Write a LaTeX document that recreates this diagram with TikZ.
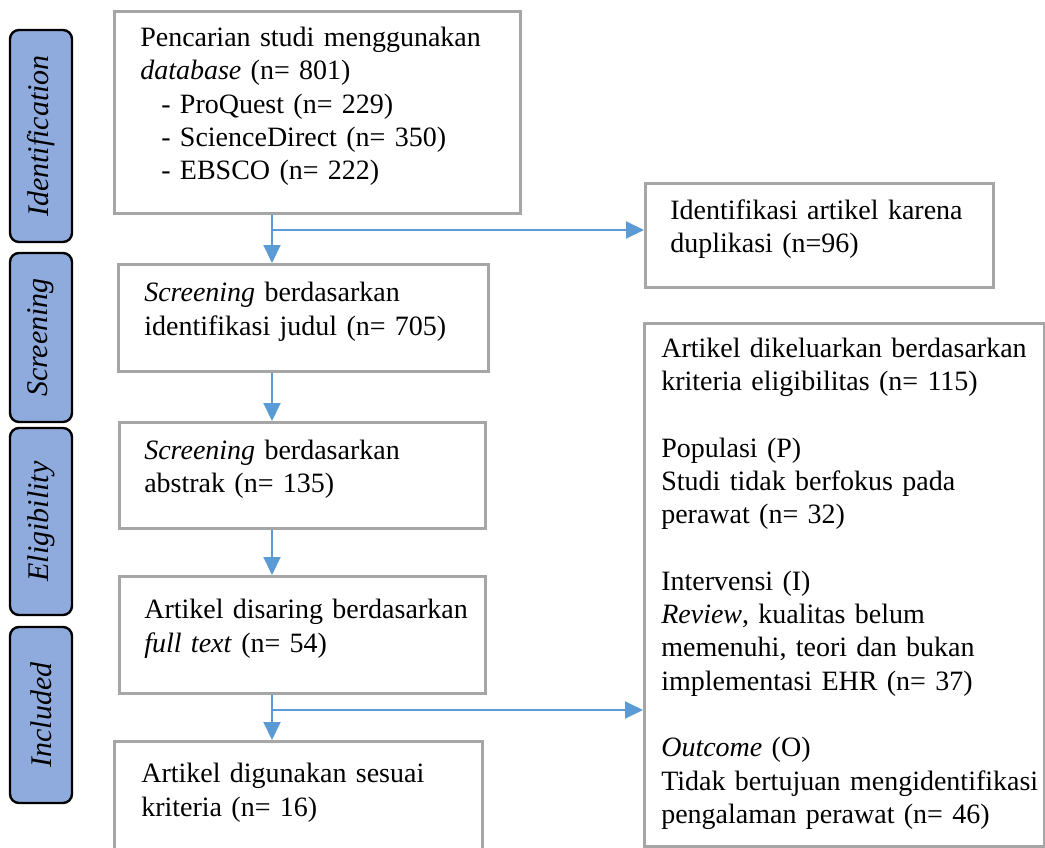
\documentclass[tikz,border=0pt]{standalone}
\usepackage{fontspec}
\setmainfont{Liberation Serif}
\usetikzlibrary{positioning,arrows.meta}

\definecolor{boxgray}{HTML}{A6A6A6}
\definecolor{flowblue}{HTML}{5B9BD5}
\definecolor{stageblue}{HTML}{8FAADC}
\newcommand{\txtsize}{\fontsize{28pt}{33.3pt}\selectfont}
\hyphenpenalty=10000
\exhyphenpenalty=10000

\tikzset{
  box/.style={draw=boxgray,line width=2.6pt,anchor=north west,align=left,
    font=\txtsize,inner ysep=0pt,execute at end node={\rule[-18pt]{0pt}{18pt}}},
  stage/.style={draw=black,fill=stageblue,line width=2.4pt,rounded corners=9pt,
    rotate=90,minimum height=62pt,inner sep=0pt,font=\fontsize{30pt}{34pt}\selectfont\itshape},
  flow/.style={draw=flowblue,line width=2pt,-{Triangle[length=18pt,width=17pt]}}
}

\begin{document}
\begin{tikzpicture}[x=1pt,y=-1pt]
  \useasboundingbox (0,0) rectangle (1045,847);

  % stages
  \node[stage,minimum width=212pt] (ident) at (41,136) {Identification};
  \node[stage,minimum width=169pt] (screen) at (41,337.5) {Screening};
  \node[stage,minimum width=187pt] (elig) at (41,521.5) {Eligibility};
  \node[stage,minimum width=176pt] (incl) at (41,715) {Included};

  % main column
  \node[box,text width=354pt,inner xsep=26pt,minimum height=202pt] (search) at (113,10)
    {Pencarian studi menggunakan\\
     \textit{database} (n= 801)\\
     \hspace*{21pt}- ProQuest (n= 229)\\
     \hspace*{21pt}- ScienceDirect (n= 350)\\
     \hspace*{21pt}- EBSCO (n= 222)};
  \node[box,text width=318pt,inner xsep=26pt,minimum height=107pt] (title) at (117,263)
    {\textit{Screening} berdasarkan\\ identifikasi judul (n= 705)};
  \node[box,text width=316pt,inner xsep=25pt,minimum height=106pt] (abstr) at (118,421)
    {\textit{Screening} berdasarkan\\ abstrak (n= 135)};
  \node[box,text width=316pt,inner xsep=25pt,minimum height=117pt] (full) at (118,575)
    {Artikel~disaring~berdasarkan\\ \textit{full text} (n= 54)};
  \node[box,text width=314pt,inner xsep=27pt,minimum height=115pt] (final) at (113,740)
    {Artikel digunakan sesuai\\ kriteria (n= 16)};

  % excluded
  \node[box,text width=298pt,inner xsep=25pt,minimum height=104pt] (dup) at (644,182)
    {Identifikasi artikel karena\\ duplikasi (n=96)};
  \node[box,text width=366pt,inner xsep=17pt,minimum height=523pt] (excl) at (643,322)
    {\rule{0pt}{29pt}Artikel~dikeluarkan~berdasarkan\\ kriteria eligibilitas (n= 115)\\[33.3pt]
     Populasi (P)\\ Studi tidak berfokus pada\\ perawat (n= 32)\\[33.3pt]
     Intervensi (I)\\ \textit{Review}, kualitas belum\\ memenuhi, teori dan bukan\\
     implementasi EHR (n= 37)\\[33.3pt]
     \textit{Outcome} (O)\\ Tidak~bertujuan~mengidentifikasi\\ pengalaman perawat (n= 46)};

  % arrows
  \coordinate (trunk) at (272,0);
  \coordinate (j1) at (272,230);
  \coordinate (j2) at (272,710);
  \draw[flow] (search.south -| trunk) -- (title.north -| trunk);
  \draw[flow] (j1) -- (j1 -| dup.west);
  \draw[flow] (title.south -| trunk) -- (abstr.north -| trunk);
  \draw[flow] (abstr.south -| trunk) -- (full.north -| trunk);
  \draw[flow] (full.south -| trunk) -- (final.north -| trunk);
  \draw[flow] (j2) -- (j2 -| excl.west);
\end{tikzpicture}
\end{document}
